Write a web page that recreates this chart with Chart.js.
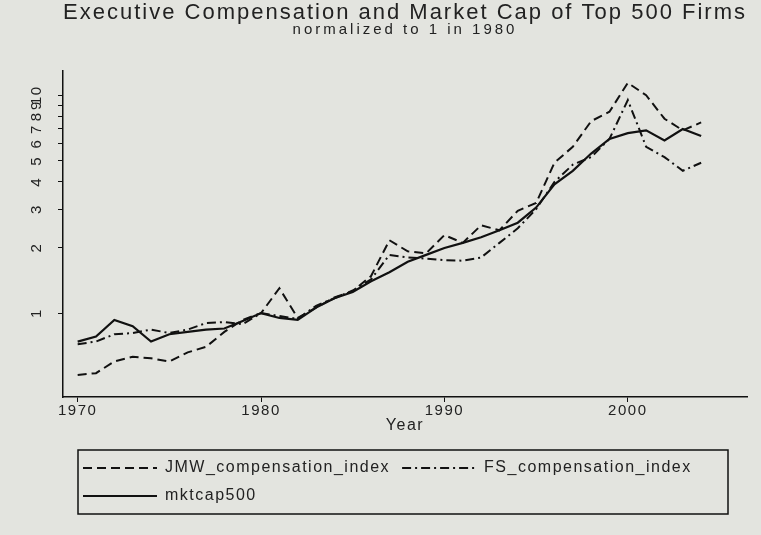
<!DOCTYPE html>
<html>
<head>
<meta charset="utf-8">
<script src="https://cdn.jsdelivr.net/npm/chart.js@4.4.1/dist/chart.umd.min.js"></script>
<style>
  html, body { margin: 0; padding: 0; background: #e3e4df; }
  #wrap { width: 761px; height: 535px; }
</style>
</head>
<body>
<div id="wrap"><canvas id="chartCanvas" width="761" height="535"></canvas></div>
<script>
var years = [1970, 1971, 1972, 1973, 1974, 1975, 1976, 1977, 1978, 1979,
             1980, 1981, 1982, 1983, 1984, 1985, 1986, 1987, 1988, 1989,
             1990, 1991, 1992, 1993, 1994, 1995, 1996, 1997, 1998, 1999,
             2000, 2001, 2002, 2003, 2004];

var jmwIndex = [0.52, 0.53, 0.60, 0.63, 0.62, 0.60, 0.66, 0.70, 0.82, 0.93,
                1.00, 1.30, 0.95, 1.06, 1.18, 1.26, 1.48, 2.16, 1.92, 1.88,
                2.28, 2.10, 2.53, 2.40, 2.95, 3.20, 4.90, 5.80, 7.60, 8.40,
                11.4, 10.0, 7.80, 6.90, 7.50];

var fsIndex = [0.72, 0.74, 0.80, 0.81, 0.84, 0.81, 0.84, 0.90, 0.91, 0.89,
               1.00, 0.97, 0.94, 1.08, 1.17, 1.27, 1.43, 1.85, 1.80, 1.78,
               1.75, 1.74, 1.80, 2.10, 2.45, 3.00, 4.00, 4.80, 5.20, 6.30,
               9.50, 5.80, 5.20, 4.50, 4.90];

var mktcap500 = [0.74, 0.78, 0.93, 0.87, 0.74, 0.80, 0.82, 0.84, 0.85, 0.92,
                 1.00, 0.95, 0.93, 1.06, 1.17, 1.25, 1.40, 1.54, 1.72, 1.85,
                 1.99, 2.10, 2.23, 2.40, 2.60, 3.05, 3.90, 4.50, 5.40, 6.30,
                 6.70, 6.90, 6.20, 7.00, 6.50];

var seriesNames = ["JMW_compensation_index", "FS_compensation_index", "mktcap500"];
var xTicks = [1970, 1980, 1990, 2000];
var yTicks = [1, 2, 3, 4, 5, 6, 7, 8, 9, 10];
var yTickLabels = ["1", "2", "3", "4", "5", "6", "7", "8", "9", "10"];

function toPoints(vals) {
    return years.map(function (yr, i) { return { x: yr, y: vals[i] }; });
}

var FONT = "'Liberation Sans', Arial, sans-serif";

// the original figure spaces its letters widely
var spacing = {
    id: 'spacing',
    beforeLayout: function (chart) { chart.ctx.letterSpacing = '1.5px'; },
    beforeDraw: function (chart) { chart.ctx.letterSpacing = '1.5px'; },
    afterLayout: function (chart) {
        chart.boxes.forEach(function (box) {
            if (box.options && box.options.text && !box._wrapped) {
                var orig = box.draw;
                var sp = box.options.text === 'normalized to 1 in 1980' ? '3px' : '2px';
                box.draw = function () {
                    var old = chart.ctx.letterSpacing;
                    chart.ctx.letterSpacing = sp;
                    orig.apply(box, arguments);
                    chart.ctx.letterSpacing = old;
                };
                box._wrapped = true;
            }
        });
        // legend sits a little in from the axis
        if (chart.legend) {
            chart.legend.left += 8;
            chart.legend.right += 8;
        }
    }
};

// box round the legend, as in the original figure
var legendBorder = {
    id: 'legendBorder',
    afterDraw: function (chart) {
        var lg = chart.legend;
        if (!lg) return;
        var ctx = chart.ctx;
        var left = lg.left + 7;
        var top = lg.top + 2;
        var right = chart.chartArea.right - 19;
        var bottom = lg.bottom;
        ctx.save();
        ctx.strokeStyle = '#111';
        ctx.lineWidth = 1.5;
        ctx.setLineDash([]);
        ctx.strokeRect(left, top, right - left, bottom - top);
        ctx.restore();
    }
};

var ctx = document.getElementById('chartCanvas').getContext('2d');
var myLineChart = new Chart(ctx, {
    type: 'line',
    data: {
        datasets: [
            { label: seriesNames[0], data: toPoints(jmwIndex), borderColor: '#111', backgroundColor: '#111',
              borderWidth: 2, borderDash: [9, 5], pointRadius: 0, tension: 0 },
            { label: seriesNames[1], data: toPoints(fsIndex), borderColor: '#111', backgroundColor: '#111',
              borderWidth: 2, borderDash: [9, 4, 2, 4], pointRadius: 0, tension: 0 },
            { label: seriesNames[2], data: toPoints(mktcap500), borderColor: '#111', backgroundColor: '#111',
              borderWidth: 2.2, pointRadius: 0, tension: 0 }
        ]
    },
    options: {
        responsive: false,
        animation: false,
        layout: { padding: { left: 0, right: 14, top: 0, bottom: 21 } },
        plugins: {
            title: {
                display: true,
                text: 'Executive Compensation and Market Cap of Top 500 Firms',
                fullSize: false,
                color: '#222',
                font: { family: FONT, size: 22, weight: 'normal' },
                padding: { top: 0, bottom: 0 }
            },
            subtitle: {
                display: true,
                text: 'normalized to 1 in 1980',
                fullSize: false,
                color: '#222',
                font: { family: FONT, size: 15, weight: 'normal' },
                padding: { top: -6, bottom: 32 }
            },
            legend: {
                position: 'bottom',
                align: 'start',
                fullSize: false,
                labels: {
                    usePointStyle: true,
                    pointStyle: 'line',
                    pointStyleWidth: 74,
                    color: '#222',
                    padding: 12,
                    font: { family: FONT, size: 16 },
                    generateLabels: function (chart) {
                        var items = Chart.defaults.plugins.legend.labels.generateLabels(chart);
                        items.forEach(function (it) {
                            var ds = chart.data.datasets[it.datasetIndex];
                            it.lineDash = ds.borderDash || [];
                            it.lineWidth = 2;
                            it.strokeStyle = '#111';
                        });
                        return items;
                    }
                }
            },
            tooltip: { enabled: false }
        },
        scales: {
            x: {
                type: 'linear',
                min: 1969.2,
                max: 2006.5,
                afterBuildTicks: function (scale) {
                    scale.ticks = xTicks.map(function (v) { return { value: v }; });
                },
                ticks: {
                    color: '#222',
                    font: { family: FONT, size: 15 },
                    padding: 0,
                    maxRotation: 0,
                    callback: function (v) { return String(v); }
                },
                grid: { display: true, drawOnChartArea: false, drawTicks: true, tickLength: 5, color: '#111' },
                border: { display: true, color: '#111', width: 1.5 },
                title: {
                    display: true,
                    text: 'Year',
                    color: '#222',
                    font: { family: FONT, size: 16 },
                    padding: { top: 0, bottom: 13 }
                },
                afterFit: function (scale) { scale.height = 51; }
            },
            y: {
                type: 'logarithmic',
                min: 0.412,
                max: 13,
                afterBuildTicks: function (scale) {
                    scale.ticks = yTicks.map(function (v) { return { value: v }; });
                },
                ticks: {
                    color: '#222',
                    font: { family: FONT, size: 15 },
                    minRotation: 90,
                    maxRotation: 90,
                    crossAlign: 'center',
                    padding: 11,
                    callback: function (v) {
                        var i = yTicks.indexOf(v);
                        return i >= 0 ? yTickLabels[i] : '';
                    }
                },
                grid: { display: true, drawOnChartArea: false, drawTicks: true, tickLength: 5, color: '#111' },
                border: { display: true, color: '#111', width: 1.5 },
                afterFit: function (scale) { scale.width = 63; }
            }
        }
    },
    plugins: [spacing, legendBorder]
});
</script>
</body>
</html>
